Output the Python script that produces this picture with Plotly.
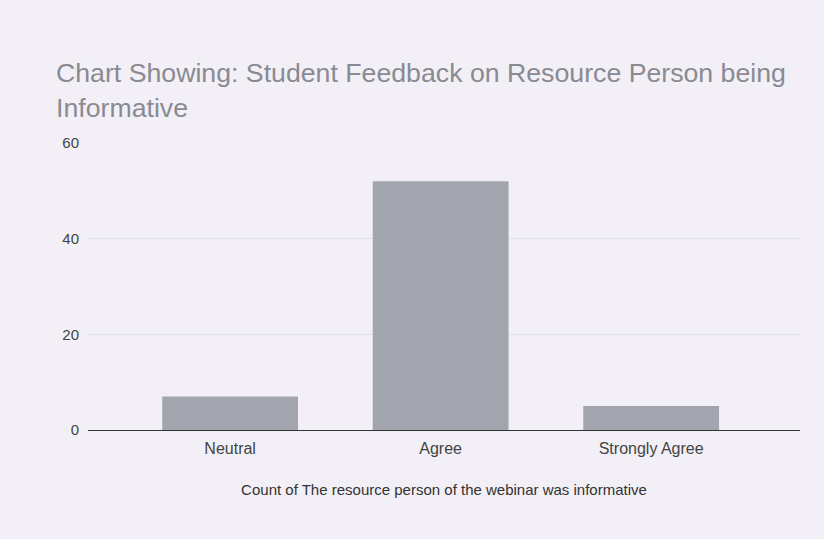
import plotly.graph_objects as go

categories = ["Neutral", "Agree", "Strongly Agree"]
counts = [7, 52, 5]
y_ticks = [0, 20, 40, 60]

title_text = "Chart Showing: Student Feedback on Resource Person being<br>Informative"
x_title = "Count of The resource person of the webinar was informative"

fig = go.Figure()
fig.add_trace(go.Bar(
    x=list(range(len(categories))),
    y=counts,
    width=0.645,
    marker=dict(color="#a3a5ae", line=dict(width=0)),
    showlegend=False,
))

fig.update_layout(
    width=824, height=539,
    paper_bgcolor="#f2f0f6",
    plot_bgcolor="#f2f0f6",
    margin=dict(l=88, r=24, t=143, b=109),
    font=dict(family="Liberation Sans, Arial, sans-serif", color="#444"),
    title=dict(
        text=title_text,
        x=56/824, xanchor="left", xref="container",
        y=1-82/539, yanchor="top", yref="container",
        font=dict(size=26.7, color="#8a8a92"),
    ),
)

fig.update_xaxes(
    tickvals=list(range(len(categories))),
    ticktext=categories,
    range=[-0.675, 2.707],
    showgrid=False,
    showline=False,
    zeroline=False,
    tickfont=dict(size=16, color="#444"),
    ticks="",
    ticklabelstandoff=7,
    title=dict(text=x_title, font=dict(size=15, color="#333"), standoff=28),
)
fig.update_yaxes(
    range=[0, 60],
    tickvals=y_ticks,
    showgrid=True,
    gridcolor="#e2e0e8",
    zeroline=True,
    zerolinecolor="#333333",
    zerolinewidth=1,
    tickfont=dict(size=15, color="#444"),
    ticks="",
    ticklabelstandoff=8,
)

fig.write_html("out.html", config={"displayModeBar": False},
               post_script="document.body.style.margin='0';")
